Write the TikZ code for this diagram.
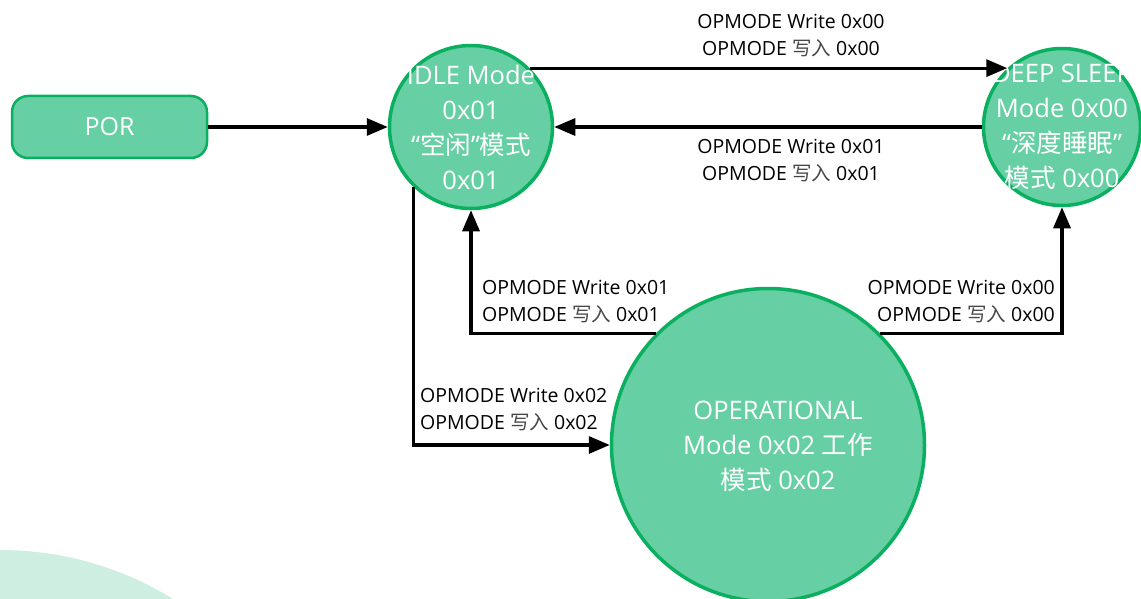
\documentclass[tikz,border=0pt]{standalone}
\usepackage{fontspec}
\setmainfont{Open Sans}
\newfontfamily\cjk{Noto Sans CJK SC}
\usetikzlibrary{arrows.meta}
\definecolor{stategreen}{RGB}{102,207,164}
\definecolor{stateedge}{RGB}{10,176,96}
\definecolor{blobgreen}{RGB}{205,238,224}
\newcommand\zhl[1]{{\cjk\color{black!72}#1}}
\newcommand\zhw[1]{{\cjk #1}}
\begin{document}
\begin{tikzpicture}[x=1pt,y=-1pt,
  state/.style={circle,draw=stateedge,fill=stategreen,line width=3.5pt,inner sep=0pt},
  statetext/.style={text=white,align=center,inner sep=0pt,font=\fontsize{25.5}{35}\selectfont},
  trans/.style={draw=black,line width=3.2pt,-{Triangle[length=21pt,width=17pt]}},
  lbl/.style={font=\fontsize{19.5}{27}\selectfont,inner sep=0pt}]
\useasboundingbox (0,0) rectangle (1141,599);
\clip (0,0) rectangle (1141,599);

% pale backdrop in the lower left corner
\fill[blobgreen] (0,880) circle[radius=330];

% states
\node[draw=stateedge,fill=stategreen,line width=2.5pt,rounded corners=16pt,
      minimum width=195pt,minimum height=62pt,text=white,
      font=\fontsize{25}{30}\selectfont] (por) at (109.5,127) {POR};
\node[state,minimum size=163pt] (idle) at (471,127) {};
\node[state,minimum size=157pt] (deep) at (1062,127) {};
\node[state,minimum size=313pt] (op) at (768,445) {};

\node[statetext] (idletxt) at (idle) {IDLE Mode\\0x01\\“\zhw{空闲}”\zhw{模式}\\0x01};
\node[statetext] (deeptxt) at (deep) {DEEP SLEEP\\Mode 0x00\\“\zhw{深度睡眠}”\\\zhw{模式} 0x00};
\node[statetext] (optxt) at ([xshift=10pt,yshift=-1pt]op.center) {OPERATIONAL\\Mode 0x02 \zhw{工作}\\\zhw{模式} 0x02};

% transitions
\draw[trans] (por) -- (idle);
\draw[trans] (idle.45) -- (idle.45 -| deep.133);
\draw[trans] (deep) -- (idle);
\draw[trans] (idle.226) |- (op);
\draw[trans] (op.135) -| (idle);
\draw[trans] (op.45) -| (deep);

% transition labels
\node[lbl,align=center] (lidledeep) at (791,35.5) {OPMODE Write 0x00\\OPMODE \zhl{写入} 0x00};
\node[lbl,align=center] (ldeepidle) at (791,160.5) {OPMODE Write 0x01\\OPMODE \zhl{写入} 0x01};
\node[lbl,align=left,anchor=west] (lidleop) at (420,409.5) {OPMODE Write 0x02\\OPMODE \zhl{写入} 0x02};
\node[lbl,align=left,anchor=west] (lopidle) at (482,301.5) {OPMODE Write 0x01\\OPMODE \zhl{写入} 0x01};
\node[lbl,align=right,anchor=east] (lopdeep) at (1055,301.5) {OPMODE Write 0x00\\OPMODE \zhl{写入} 0x00};
\end{tikzpicture}
\end{document}
